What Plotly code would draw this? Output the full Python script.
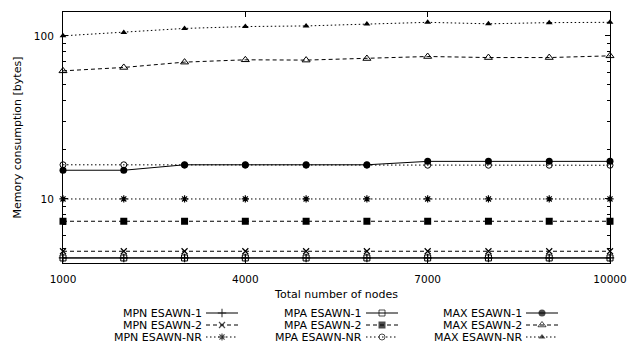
import math
import plotly.graph_objects as go

# ---------------- data ----------------
nodes = [1000, 2000, 3000, 4000, 5000, 6000, 7000, 8000, 9000, 10000]

mpn_esawn_1 = [4.35, 4.35, 4.35, 4.35, 4.35, 4.35, 4.35, 4.35, 4.35, 4.35]
mpn_esawn_2 = [4.78, 4.78, 4.78, 4.78, 4.78, 4.78, 4.78, 4.78, 4.78, 4.78]
mpn_esawn_nr = [10, 10, 10, 10, 10, 10, 10, 10, 10, 10]
mpa_esawn_1 = [4.35, 4.35, 4.35, 4.35, 4.35, 4.35, 4.35, 4.35, 4.35, 4.35]
mpa_esawn_2 = [7.3, 7.3, 7.3, 7.3, 7.3, 7.3, 7.3, 7.3, 7.3, 7.3]
mpa_esawn_nr = [16.2, 16.2, 16.1, 16.1, 16.1, 16.1, 16.1, 16.1, 16.1, 16.1]
max_esawn_1 = [15.0, 15.0, 16.2, 16.2, 16.2, 16.2, 17.0, 17.0, 17.0, 17.0]
max_esawn_2 = [61, 64, 69, 71.3, 71, 72.6, 74.7, 73.6, 73.6, 75.4]
max_esawn_nr = [100, 105, 111, 114, 115, 118, 121, 118.5, 120.5, 121]

x_tick_vals = [1000, 4000, 7000, 10000]
y_tick_vals = [10, 100]
y_minor_vals = [5, 6, 7, 8, 9, 20, 30, 40, 50, 60, 70, 80, 90]

series_names = ["MPN ESAWN-1", "MPN ESAWN-2", "MPN ESAWN-NR",
                "MPA ESAWN-1", "MPA ESAWN-2", "MPA ESAWN-NR",
                "MAX ESAWN-1", "MAX ESAWN-2", "MAX ESAWN-NR"]
series_values = [mpn_esawn_1, mpn_esawn_2, mpn_esawn_nr,
                 mpa_esawn_1, mpa_esawn_2, mpa_esawn_nr,
                 max_esawn_1, max_esawn_2, max_esawn_nr]

# ---------------- styles ----------------
W, H = 627, 349
FONT = "DejaVu Sans, Liberation Sans, Arial, sans-serif"
FS_TICK = 10.5
FS_TITLE = 11
FS_LEG = 11
DASHES = {"solid": "solid", "dash": "4px,3px", "dot": "1.5px,2.5px"}
styles = [
    dict(dash="solid", symbol="cross-thin", size=6, lw=1.2),
    dict(dash="dash", symbol="x-thin", size=6, lw=1.2),
    dict(dash="dot", symbol="asterisk", size=6, lw=1.2),
    dict(dash="solid", symbol="square-open", size=6, lw=1.0),
    dict(dash="dash", symbol="square", size=7, lw=0),
    dict(dash="dot", symbol="circle-open", size=6, lw=1.0),
    dict(dash="solid", symbol="circle", size=7, lw=0),
    dict(dash="dash", symbol="triangle-up-open", size=7, lw=1.0),
    dict(dash="dot", symbol="triangle-up", size=6, lw=0),
]

fig = go.Figure()

for name, vals, st in zip(series_names, series_values, styles):
    fig.add_trace(go.Scatter(
        x=nodes, y=vals, name=name, mode="lines+markers",
        line=dict(color="black", width=1, dash=DASHES[st["dash"]]),
        marker=dict(symbol=st["symbol"], size=st["size"], color="black",
                    line=dict(color="black", width=st["lw"])),
        cliponaxis=False, showlegend=False,
        xaxis="x", yaxis="y",
    ))

# ---------------- custom gnuplot-style legend (text left, sample right) ----------------
LEG_TEXT_RIGHT = [203, 363, 523]
LEG_ROW_Y = [313, 325, 337]
SAMPLE_GAP = 3
SAMPLE_LEN = 32
annotations = []
for i, (name, st) in enumerate(zip(series_names, styles)):
    col, row = i // 3, i % 3
    xr = LEG_TEXT_RIGHT[col]
    yy = LEG_ROW_Y[row]
    x0 = xr + SAMPLE_GAP
    x1 = x0 + SAMPLE_LEN
    fig.add_trace(go.Scatter(
        x=[x0, (x0 + x1) / 2, x1], y=[yy, yy, yy], mode="lines+markers",
        line=dict(color="black", width=1, dash=DASHES[st["dash"]]),
        marker=dict(symbol=st["symbol"], size=[0, st["size"], 0], color="black",
                    line=dict(color="black", width=[0, st["lw"], 0])),
        showlegend=False, hoverinfo="skip", cliponaxis=False,
        xaxis="x3", yaxis="y3",
    ))
    annotations.append(dict(
        x=xr, y=yy, xref="x3", yref="y3", text=name, showarrow=False,
        xanchor="right", yanchor="middle", borderpad=0,
        font=dict(family=FONT, size=FS_LEG, color="black"),
    ))

PL, PR, PT, PB = 63, 610, 12, 263
fig.update_layout(
    width=W, height=H,
    margin=dict(l=0, r=0, t=0, b=0),
    paper_bgcolor="white", plot_bgcolor="rgba(0,0,0,0)",
    font=dict(family=FONT, size=FS_TICK, color="black"),
    annotations=annotations,
    showlegend=False,
    xaxis=dict(
        domain=[PL / W, PR / W], anchor="y", range=[1000, 10000],
        tickvals=x_tick_vals, ticktext=[str(v) for v in x_tick_vals],
        ticks="inside", ticklen=5, tickcolor="black", tickwidth=1,
        showline=True, linecolor="black", linewidth=1, mirror="ticks",
        showgrid=False, zeroline=False, ticklabelstandoff=6, automargin=False,
        tickfont=dict(family=FONT, size=FS_TICK),
        title=dict(text="Total number of nodes", standoff=6,
                   font=dict(family=FONT, size=FS_TITLE)),
    ),
    yaxis=dict(
        domain=[1 - PB / H, 1 - PT / H], anchor="x", type="log",
        range=[math.log10(4.05), math.log10(140)],
        tickvals=y_tick_vals, ticktext=[str(v) for v in y_tick_vals],
        ticks="inside", ticklen=5, tickcolor="black", tickwidth=1,
        minor=dict(tickvals=y_minor_vals, ticks="inside", ticklen=3,
                   tickcolor="black", tickwidth=1, showgrid=False),
        showline=True, linecolor="black", linewidth=1, mirror="ticks",
        showgrid=False, zeroline=False, ticklabelstandoff=6, automargin=False,
        tickfont=dict(family=FONT, size=FS_TICK),
        title=dict(text="Memory consumption [bytes]", standoff=10,
                   font=dict(family=FONT, size=FS_TITLE)),
    ),
    xaxis3=dict(domain=[0, 1], range=[0, W], anchor="y3", visible=False,
                fixedrange=True, automargin=False),
    yaxis3=dict(domain=[0, 1], range=[H, 0], anchor="x3", visible=False,
                fixedrange=True, automargin=False),
)

fig.write_html("out.html", config={"displayModeBar": False},
               post_script="document.body.style.margin='0px';")
